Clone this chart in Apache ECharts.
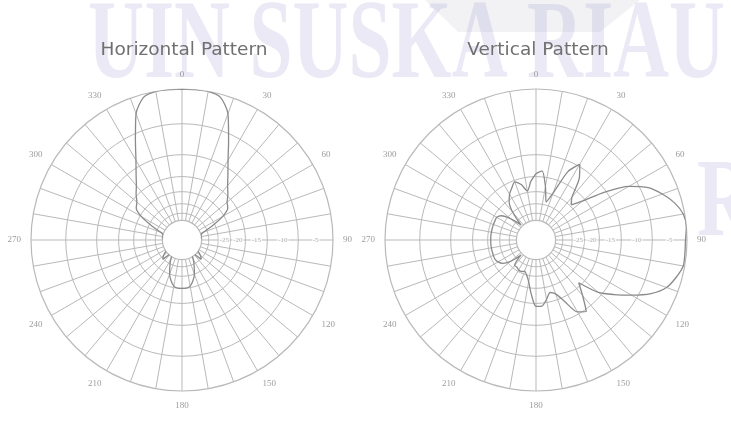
<!DOCTYPE html>
<html>
<head>
<meta charset="utf-8">
<script src="https://cdn.jsdelivr.net/npm/echarts@6/dist/echarts.min.js"></script>
<style>
  html, body { margin: 0; padding: 0; background: #ffffff; }
  #chart { width: 731px; height: 429px; }
</style>
</head>
<body>
<div id="chart"></div>
<script>
// Sample directions, degrees clockwise from 0° (top)
const sampleAngles = [
  0, 5, 10, 15, 20, 25, 30, 35, 40, 45, 50, 55,
  60, 65, 70, 75, 80, 85, 90, 95, 100, 105, 110, 115,
  120, 125, 130, 135, 140, 145, 150, 155, 160, 165, 170, 175,
  180, 185, 190, 195, 200, 205, 210, 215, 220, 225, 230, 235,
  240, 245, 250, 255, 260, 265, 270, 275, 280, 285, 290, 295,
  300, 305, 310, 315, 320, 325, 330, 335, 340, 345, 350, 355
];

// Horizontal-plane pattern, relative level on the chart's radial scale (outer ring = 1)
const horizontalPattern = [
  1.00, 1.00, 1.00, 0.98, 0.89, 0.73, 0.61, 0.53, 0.47, 0.43, 0.39, 0.37,
  0.31, 0.22, 0.15, 0.13, 0.13, 0.13, 0.12, 0.12, 0.11, 0.10, 0.10, 0.10,
  0.11, 0.13, 0.16, 0.18, 0.12, 0.11, 0.15, 0.19, 0.24, 0.28, 0.31, 0.32,
  0.32, 0.32, 0.31, 0.28, 0.24, 0.19, 0.15, 0.11, 0.12, 0.18, 0.16, 0.13,
  0.11, 0.10, 0.10, 0.10, 0.11, 0.12, 0.12, 0.13, 0.13, 0.13, 0.15, 0.22,
  0.31, 0.37, 0.39, 0.43, 0.47, 0.53, 0.61, 0.73, 0.89, 0.98, 1.00, 1.00
];

// Vertical-plane pattern, same radial scale
const verticalPattern = [
  0.44, 0.46, 0.36, 0.26, 0.33, 0.50, 0.58, 0.50, 0.37, 0.33, 0.40, 0.55,
  0.71, 0.82, 0.89, 0.95, 0.99, 1.00, 0.99, 0.99, 0.99, 0.96, 0.92, 0.84,
  0.73, 0.63, 0.54, 0.40, 0.48, 0.58, 0.55, 0.45, 0.38, 0.36, 0.40, 0.44,
  0.44, 0.36, 0.28, 0.24, 0.22, 0.23, 0.23, 0.22, 0.22, 0.14, 0.22, 0.27,
  0.29, 0.30, 0.30, 0.30, 0.30, 0.30, 0.30, 0.30, 0.30, 0.30, 0.30, 0.30,
  0.30, 0.28, 0.22, 0.14, 0.24, 0.31, 0.35, 0.38, 0.41, 0.38, 0.33, 0.39
];

// Grid rings on the radial scale and the dB level each one marks
const ringLevels = [0.13, 0.177, 0.24, 0.32, 0.42, 0.565, 0.77, 1.0];
const ringDb     = [-35, -30, -25, -20, -15, -10, -5, 0];

// dB values printed along the 90° spoke
const dbTickLabels = [-25, -20, -15, -10, -5];

const plotTitles = ['Horizontal Pattern', 'Vertical Pattern'];

const R = 151;
const centers = [[182, 240], [536, 240]];
const gridColor = '#b9b9b9';
const traceColor = '#8a8a8a';
const labelColor = '#9c9c9c';

const chart = echarts.init(document.getElementById('chart'), null, { renderer: 'canvas' });

const ringAngles = sampleAngles.concat([360]);

function gridSeries(idx) {
  const list = [];
  // intermediate rings (inner and outer circles come from the angle axis line)
  ringLevels.slice(1, -1).forEach(function (level) {
    list.push({
      type: 'line', coordinateSystem: 'polar', polarIndex: idx,
      symbol: 'none', silent: true, clip: false,
      data: ringAngles.map(function (a) { return [level, a]; }),
      lineStyle: { color: gridColor, width: 1 }, z: 1, animation: false
    });
  });
  // cross through the inner circle
  const inner = ringLevels[0];
  [[0, 180], [90, 270]].forEach(function (pair) {
    list.push({
      type: 'line', coordinateSystem: 'polar', polarIndex: idx,
      symbol: 'none', silent: true, clip: false,
      data: [[inner, pair[0]], [inner, pair[1]]],
      lineStyle: { color: gridColor, width: 1 }, z: 1, animation: false
    });
  });
  // dB scale labels, each sitting in the band just outside its ring
  list.push({
    type: 'scatter', coordinateSystem: 'polar', polarIndex: idx,
    silent: true, symbolSize: 1,
    itemStyle: { color: 'rgba(0,0,0,0)' },
    data: dbTickLabels.map(function (db) {
      const i = ringDb.indexOf(db);
      return { name: String(db), value: [(ringLevels[i] + ringLevels[i + 1]) / 2, 90] };
    }),
    label: {
      show: true, position: 'inside', formatter: '{b}',
      fontSize: 7, fontFamily: 'Liberation Serif', color: labelColor,
      backgroundColor: '#ffffff', padding: [1, 1]
    },
    z: 3, animation: false
  });
  return list;
}

function patternSeries(idx, pattern) {
  const data = pattern.map(function (r, i) { return [r, sampleAngles[i]]; });
  data.push([pattern[0], 360]);
  return {
    type: 'line', coordinateSystem: 'polar', polarIndex: idx,
    symbol: 'none', clip: false, smooth: 0.25,
    data: data, lineStyle: { color: traceColor, width: 1.3 }, z: 4, animation: false
  };
}

function angleAxis(idx) {
  return {
    polarIndex: idx, type: 'value', min: 0, max: 360, interval: 10,
    startAngle: 90, clockwise: true,
    axisLine: { lineStyle: { color: gridColor, width: 1.2 } },
    axisTick: { show: false },
    axisLabel: {
      margin: 10, fontSize: 9, fontFamily: 'Liberation Serif', color: labelColor,
      formatter: function (v) { return (v % 30 === 0 && v < 360) ? String(v) : ''; }
    },
    splitLine: { show: true, lineStyle: { color: gridColor, width: 1 } }
  };
}

function radiusAxis(idx) {
  return {
    polarIndex: idx, type: 'value', min: ringLevels[0], max: 1,
    axisLine: { show: false }, axisTick: { show: false },
    axisLabel: { show: false }, splitLine: { show: false }
  };
}

const watermarkFont = 'bold 112px "Liberation Serif"';
const measureCtx = document.createElement('canvas').getContext('2d');
measureCtx.font = watermarkFont;
const wmText = 'UIN SUSKA RIAU';
const wmScale = 637 / measureCtx.measureText(wmText).width;

const option = {
  backgroundColor: '#ffffff',
  animation: false,
  polar: centers.map(function (c) {
    return { center: c, radius: [R * ringLevels[0], R] };
  }),
  angleAxis: [angleAxis(0), angleAxis(1)],
  radiusAxis: [radiusAxis(0), radiusAxis(1)],
  graphic: [
    {
      type: 'polygon', z: -10, silent: true,
      shape: { points: [[425, 0], [640, 0], [600, 32], [458, 32]] },
      style: { fill: 'rgba(195,195,210,0.22)' }
    },
    {
      type: 'text', z: -9, silent: true, x: 88, y: 104, scaleX: wmScale, originX: 0,
      style: {
        text: wmText, font: watermarkFont, fill: 'rgba(150,145,205,0.2)',
        align: 'left', verticalAlign: 'bottom'
      }
    },
    {
      type: 'text', z: -9, silent: true, x: 697, y: 262, scaleX: wmScale,
      style: {
        text: 'R', font: watermarkFont, fill: 'rgba(150,145,205,0.2)',
        align: 'left', verticalAlign: 'bottom'
      }
    },
    {
      type: 'text', x: 184, y: 50, silent: true,
      style: { text: plotTitles[0], font: '18.5px "DejaVu Sans"', fill: '#707070', align: 'center', verticalAlign: 'middle' }
    },
    {
      type: 'text', x: 538, y: 50, silent: true,
      style: { text: plotTitles[1], font: '18.5px "DejaVu Sans"', fill: '#707070', align: 'center', verticalAlign: 'middle' }
    }
  ],
  series: gridSeries(0)
    .concat(gridSeries(1))
    .concat([patternSeries(0, horizontalPattern), patternSeries(1, verticalPattern)])
};

chart.setOption(option);
</script>
</body>
</html>
